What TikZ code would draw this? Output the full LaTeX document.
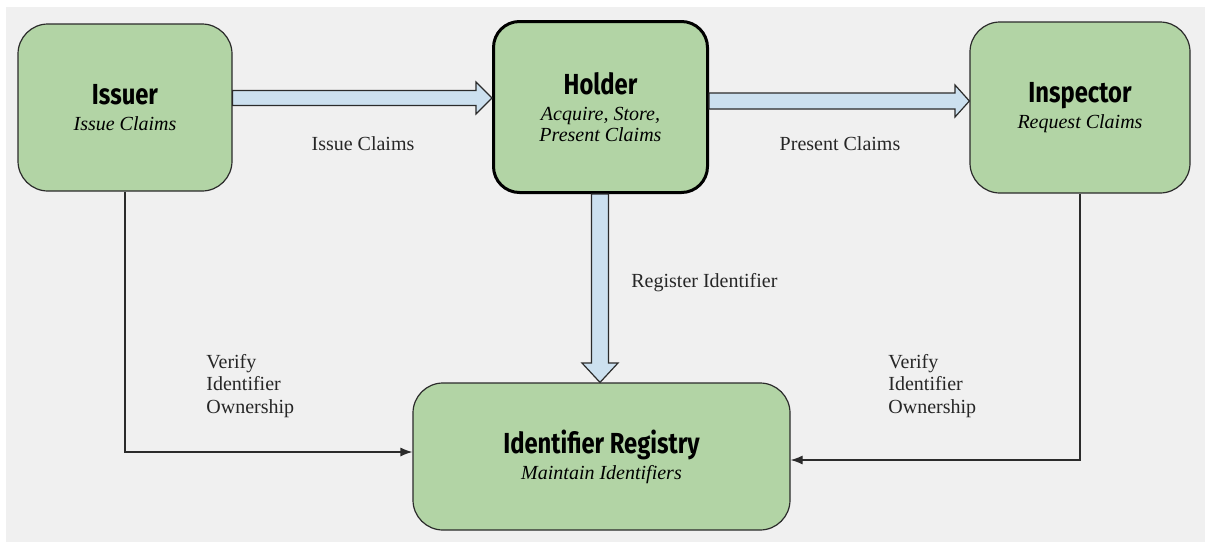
\documentclass[tikz,border=0pt]{standalone}
\usepackage{fontspec}
\setmainfont{Liberation Serif}
\newfontfamily\headfont{Fira Sans}[FakeStretch=0.82]
\usetikzlibrary{arrows.meta}
\definecolor{bg}{HTML}{F0F0F0}
\definecolor{boxgreen}{HTML}{B2D4A5}
\definecolor{flowblue}{HTML}{CCE0EF}
\definecolor{edgegray}{HTML}{2B2B2B}
\newcommand{\heading}[1]{{\headfont\bfseries\fontsize{14.5}{17}\selectfont #1}}
\newcommand{\duty}[1]{{\rmfamily\mdseries\itshape #1}}
\tikzset{
  actor/.style={draw=edgegray, line width=0.6pt, fill=boxgreen, rounded corners=15pt,
    align=center, inner sep=0pt, text=black, font=\rmfamily\fontsize{10}{11.5}\selectfont},
  keyactor/.style={actor, draw=black, line width=1.5pt, rounded corners=13pt},
  fatflow/.style={draw=edgegray, line width=0.6pt, fill=flowblue, line join=miter},
  link/.style={draw=edgegray, line width=0.6pt, -{Latex[length=6pt,width=4.5pt]}},
  lbl/.style={font=\rmfamily\fontsize{10}{11.25}\selectfont, text=black!85, inner sep=0pt},
}
\begin{document}
\begin{tikzpicture}[x=0.5pt, y=-0.5pt]
  \useasboundingbox (0,0) rectangle (1205,542);
  \fill[white] (0,0) rectangle (1205,542);
  \fill[bg] (6,7) rectangle (1205,542);

  % parties
  \node[actor, minimum width=107pt, minimum height=83.5pt] (iss) at (125,107.5)
    {\heading{Issuer}\\[1.5pt]\duty{Issue Claims}};
  \node[keyactor, minimum width=107pt, minimum height=85.5pt] (hol) at (600.5,107)
    {\heading{Holder}\\[1.5pt]\duty{Acquire, Store,}\\[-1pt]\duty{Present Claims}};
  \node[actor, minimum width=110pt, minimum height=85.5pt] (ins) at (1080,107.5)
    {\heading{Inspector}\\[1.5pt]\duty{Request Claims}};
  \node[actor, minimum width=188.5pt, minimum height=73.5pt] (reg) at (601.5,456.5)
    {\heading{Identifier Registry}\\[1.5pt]\duty{Maintain Identifiers}};

  % claim flows
  \draw[fatflow] (iss.east |- 0,90.5) -- (476,90.5) -- (476,82) -- (hol.west |- 0,98)
    -- (476,114) -- (476,105.5) -- (iss.east |- 0,105.5) -- cycle;
  \draw[fatflow] (hol.east |- 0,93) -- (955,93) -- (955,85) -- (ins.west |- 0,101)
    -- (955,117) -- (955,109) -- (hol.east |- 0,109) -- cycle;
  \draw[fatflow] (hol.south -| 591.5,0) -- (591.5,363) -- (582,363) -- (reg.north -| 600,0)
    -- (618,363) -- (608.5,363) -- (hol.south -| 608.5,0) -- cycle;

  % ownership checks
  \draw[link] (iss.south) |- (reg.west |- 0,452);
  \draw[link] (ins.south) |- (reg.east |- 0,460);

  % flow labels
  \node[lbl] (l1) at (363,144) {Issue Claims};
  \node[lbl] (l2) at (840,144) {Present Claims};
  \node[lbl, anchor=west] (l3) at (631,283) {Register Identifier};
  \node[lbl, anchor=west, align=left] (l4) at (206,386) {Verify\\Identifier\\Ownership};
  \node[lbl, anchor=west, align=left] (l5) at (888,386) {Verify\\Identifier\\Ownership};
\end{tikzpicture}
\end{document}
